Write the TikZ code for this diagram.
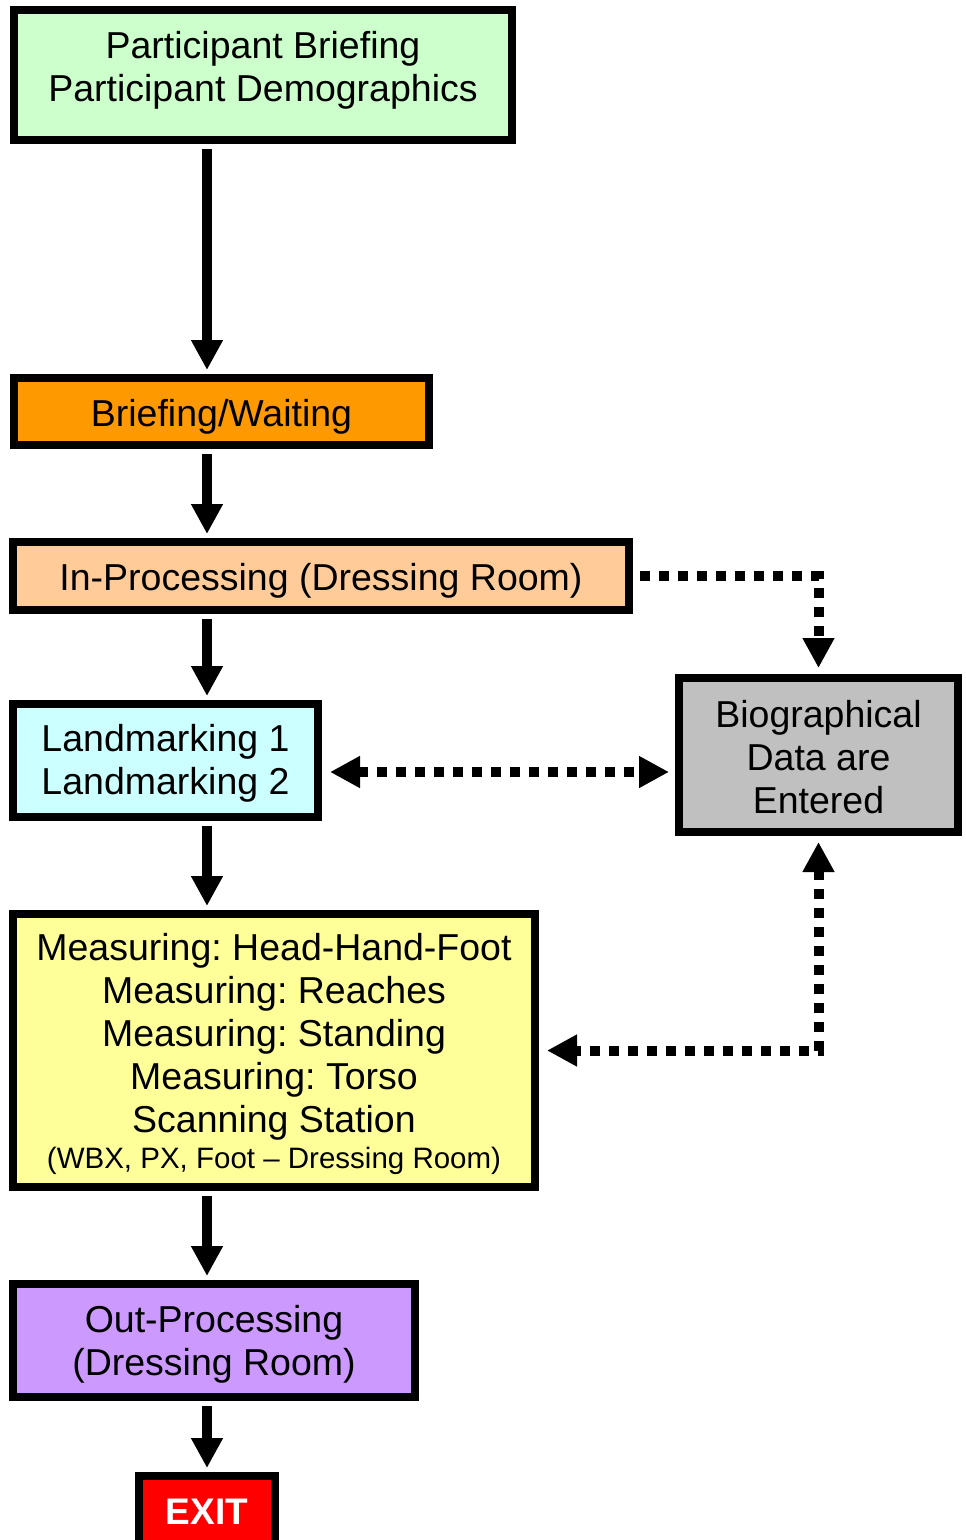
\documentclass[tikz,border=0pt]{standalone}
\usepackage{fontspec}
\setmainfont{Liberation Sans}
\usetikzlibrary{arrows.meta}
\usetikzlibrary{calc}
\definecolor{briefgreen}{HTML}{CCFFCC}
\definecolor{waitorange}{HTML}{FF9900}
\definecolor{inpeach}{HTML}{FFCC99}
\definecolor{markcyan}{HTML}{CCFFFF}
\definecolor{biogray}{HTML}{C0C0C0}
\definecolor{measyellow}{HTML}{FFFF99}
\definecolor{outpurple}{HTML}{CC99FF}
\definecolor{exitred}{HTML}{FF0000}
\frenchspacing

\begin{document}
\begin{tikzpicture}[x=1pt, y=-1pt]
\tikzset{
stage/.style = {rectangle, draw, line width=8pt, align=center, inner sep=0pt, font=\fontsize{37.5}{43}\selectfont},
oneline/.style = {stage, text height=37.5pt, text depth=8pt},
exitbox/.style = {stage, fill=exitred, text=white, font=\fontsize{37}{42}\selectfont\bfseries},
big/.tip = {Triangle[width=30pt, length=30pt]},
line/.style = {draw, line width=10pt, -big, shorten <=5pt, shorten >=4pt},
dotline/.style = {draw, line width=10pt, dash pattern=on 10pt off 9pt}
}
\useasboundingbox (0,0) rectangle (966,1540);

     \node [stage, fill=briefgreen, minimum width=498pt, minimum height=130pt, text depth=18pt] (briefing) at (263,75) {Participant Briefing\\Participant Demographics};
     \node [oneline, fill=waitorange, minimum width=415pt, minimum height=67pt] (waiting) at (221.5,411.5) {Briefing/Waiting};
     \node [oneline, fill=inpeach, minimum width=616pt, minimum height=68pt] (inproc) at (321,576) {In-Processing (Dressing Room)};
     \node [stage, fill=markcyan, minimum width=305pt, minimum height=113pt, align=left, text depth=2pt] (landmark) at (165.5,760.5) {Landmarking 1\\Landmarking 2};
     \node [stage, fill=biogray, minimum width=279pt, minimum height=154pt, text height=117.5pt] (biodata) at (818.5,755) {Biographical\\Data are\\Entered};
     \node [stage, fill=measyellow, minimum width=522pt, minimum height=273pt, text depth=-12pt] (measure) at (274,1050.5) {Measuring: Head-Hand-Foot\\Measuring: Reaches\\Measuring: Standing\\Measuring: Torso\\Scanning Station\\[-7pt]{\fontsize{29.5}{34}\selectfont (WBX, PX, Foot -- Dressing Room)}};
     \node [stage, fill=outpurple, minimum width=402pt, minimum height=113pt, text depth=1pt] (outproc) at (214,1340.5) {Out-Processing\\(Dressing Room)};
     \node [exitbox, minimum width=136pt, minimum height=72pt] (exit) at (207,1512) {EXIT};

     \coordinate (spine) at (207,0);
     \coordinate (midrow) at (0,772);

     \path [line] (briefing.south -| spine) -- (waiting.north -| spine);
     \path [line] (waiting.south -| spine) -- (inproc.north -| spine);
     \path [line] (inproc.south -| spine) -- (landmark.north -| spine);
     \path [line] (landmark.south -| spine) -- (measure.north -| spine);
     \path [line] (measure.south -| spine) -- (outproc.north -| spine);
     \path [line] (outproc.south -| spine) -- (exit.north -| spine);

     \path [dotline, -big, shorten <=7pt, shorten >=6pt] (inproc.east) -| (biodata.north);
     \path [dotline, big-big, shorten <=8pt, shorten >=6pt] (landmark.east |- midrow) -- (biodata.west |- midrow);
     \path [dotline, big-big, shorten <=6pt, shorten >=8pt] (biodata.south) |- (measure.east);
\end{tikzpicture}
\end{document}
